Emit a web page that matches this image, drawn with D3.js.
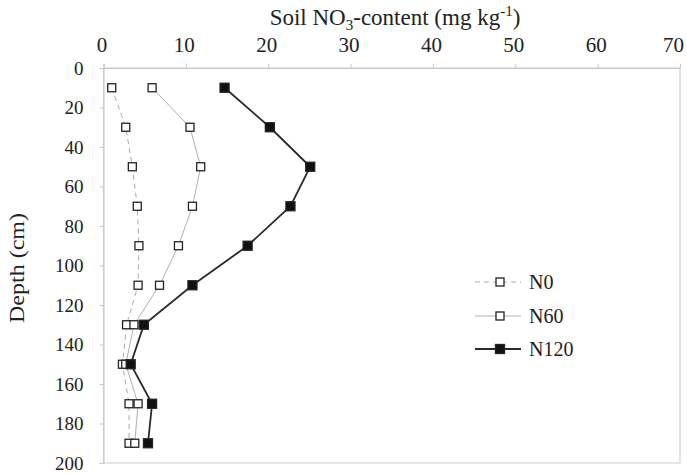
<!DOCTYPE html>
<html>
<head>
<meta charset="utf-8">
<script src="https://cdn.jsdelivr.net/npm/d3@7"></script>
<style>
  html, body { margin: 0; padding: 0; background: #fff; }
  svg { display: block; }
  svg text { font-family: "Liberation Serif", "Times New Roman", serif; fill: #222; }
</style>
</head>
<body>
<svg id="chart" width="687" height="473"></svg>
<script>
// Sampling depths (cm) and nitrate content per treatment (mg kg-1)
const depths = [10, 30, 50, 70, 90, 110, 130, 150, 170, 190];
const n0   = [1.0, 2.7, 3.5, 4.1, 4.3, 4.2, 2.8, 2.3, 3.1, 3.1];
const n60  = [5.9, 10.5, 11.8, 10.8, 9.1, 6.8, 3.7, 2.7, 4.2, 3.8];
const n120 = [14.7, 20.2, 25.1, 22.7, 17.5, 10.8, 4.9, 3.3, 5.9, 5.4];
const seriesNames = ["N0", "N60", "N120"];
const xTicks = [0, 10, 20, 30, 40, 50, 60, 70];
const yTicks = [0, 20, 40, 60, 80, 100, 120, 140, 160, 180, 200];

const serif = '"Liberation Serif", "Times New Roman", serif';
const svg = d3.select("#chart");
const plotLeft = 103.5, plotRight = 680, plotTop = 68, plotBottom = 463;

const x = d3.scaleLinear().domain([0, 70]).range([plotLeft, plotRight]);
const y = d3.scaleLinear().domain([0, 200]).range([plotTop, plotBottom]);

// plot frame
svg.append("rect")
  .attr("x", plotLeft).attr("y", plotTop)
  .attr("width", plotRight - plotLeft).attr("height", plotBottom - plotTop)
  .attr("fill", "none").attr("stroke", "#d4d4d4").attr("stroke-width", 1.2);

// top axis (concentration)
const xAxis = svg.append("g")
  .attr("transform", `translate(0,${plotTop})`)
  .call(d3.axisTop(x).tickValues(xTicks).tickSize(4).tickPadding(12));
xAxis.select(".domain").attr("stroke", "#c8c8c8");
xAxis.selectAll(".tick line").attr("stroke", "#c8c8c8");
xAxis.selectAll(".tick text")
  .style("font-family", serif).style("font-size", "21px").style("fill", "#222")
  .attr("dx", d => d === 70 ? -7 : -2);

// left axis (depth)
const yAxis = svg.append("g")
  .attr("transform", `translate(${plotLeft},0)`)
  .call(d3.axisLeft(y).tickValues(yTicks).tickSize(4).tickPadding(16));
yAxis.select(".domain").attr("stroke", "#c8c8c8");
yAxis.selectAll(".tick line").attr("stroke", "#c8c8c8");
yAxis.selectAll(".tick text")
  .style("font-family", serif).style("font-size", "19px").style("fill", "#222");

// axis titles
const title = svg.append("text")
  .attr("x", 395).attr("y", 25)
  .attr("text-anchor", "middle").style("font-size", "23px");
title.append("tspan").text("Soil NO");
title.append("tspan").style("font-size", "15px").attr("dy", 5).text("3");
title.append("tspan").attr("dy", -5).text("-content (mg kg");
title.append("tspan").style("font-size", "15px").attr("dy", -9).text("-1");
title.append("tspan").attr("dy", 9).text(")");

svg.append("text")
  .attr("transform", "translate(24,268) rotate(-90)")
  .attr("text-anchor", "middle").style("font-size", "22px")
  .attr("textLength", 110).attr("lengthAdjust", "spacingAndGlyphs")
  .text("Depth (cm)");

// series styling
const styles = {
  N0:   { data: n0,   stroke: "#aaaaaa", width: 1,   dash: "5,4", fill: "#fff", size: 8 },
  N60:  { data: n60,  stroke: "#b0b0b0", width: 1,   dash: null,  fill: "#fff", size: 8 },
  N120: { data: n120, stroke: "#2a2a2a", width: 1.8, dash: null,  fill: "#111", size: 9 }
};

const line = d3.line()
  .x(d => x(d.v))
  .y(d => y(d.d));

seriesNames.forEach(name => {
  const s = styles[name];
  const pts = depths.map((d, i) => ({ d, v: s.data[i] }));
  svg.append("path")
    .datum(pts)
    .attr("d", line)
    .attr("fill", "none")
    .attr("stroke", s.stroke)
    .attr("stroke-width", s.width)
    .attr("stroke-dasharray", s.dash);
});

seriesNames.forEach(name => {
  const s = styles[name];
  const pts = depths.map((d, i) => ({ d, v: s.data[i] }));
  svg.append("g").selectAll("rect")
    .data(pts)
    .join("rect")
    .attr("x", d => x(d.v) - s.size / 2)
    .attr("y", d => y(d.d) - s.size / 2)
    .attr("width", s.size).attr("height", s.size)
    .attr("fill", s.fill)
    .attr("stroke", "#222")
    .attr("stroke-width", 1.3);
});

// legend
const legend = svg.append("g");
const legendY = [282, 316, 349];
seriesNames.forEach((name, i) => {
  const s = styles[name];
  const g = legend.append("g").attr("transform", `translate(0,${legendY[i]})`);
  g.append("line")
    .attr("x1", 475).attr("x2", 521)
    .attr("stroke", s.stroke).attr("stroke-width", s.width)
    .attr("stroke-dasharray", s.dash);
  g.append("rect")
    .attr("x", 500 - s.size / 2).attr("y", -s.size / 2)
    .attr("width", s.size).attr("height", s.size)
    .attr("fill", s.fill).attr("stroke", "#222").attr("stroke-width", 1.3);
  g.append("text")
    .attr("x", 529).attr("y", 7)
    .style("font-size", "20px")
    .text(name);
});
</script>
</body>
</html>
